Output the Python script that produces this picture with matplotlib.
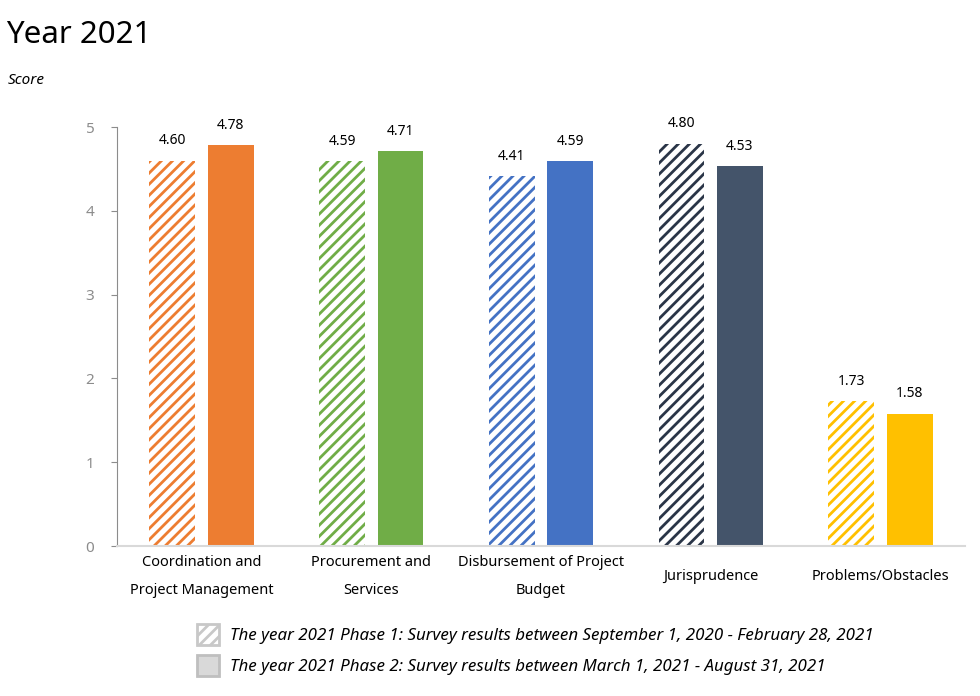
import matplotlib
matplotlib.use("Agg")
import matplotlib.pyplot as plt
import numpy as np
from matplotlib.patches import Patch

plt.rcParams['font.family'] = ['Noto Sans', 'DejaVu Sans']
plt.rcParams['hatch.linewidth'] = 2.0

categories = ["Coordination and\nProject Management", "Procurement and\nServices",
              "Disbursement of Project\nBudget", "Jurisprudence", "Problems/Obstacles"]
phase1 = [4.60, 4.59, 4.41, 4.80, 1.73]
phase2 = [4.78, 4.71, 4.59, 4.53, 1.58]
colors = ["#ED7D31", "#70AD47", "#4472C4", "#44546A", "#FFC000"]
hatch_colors = ["#ED7D31", "#70AD47", "#4472C4", "#2A3547", "#FFC000"]
legend_labels = ["The year 2021 Phase 1: Survey results between September 1, 2020 - February 28, 2021",
                 "The year 2021 Phase 2: Survey results between March 1, 2021 - August 31, 2021"]

fig = plt.figure(figsize=(9.8, 6.96), dpi=100)
ax = fig.add_axes([0.119, 0.2155, 0.866, 0.602])

x = np.arange(len(categories))
w = 0.27
off = 0.172
for i in range(len(categories)):
    ax.bar(x[i] - off, phase1[i], w, facecolor="white", edgecolor=hatch_colors[i],
           hatch="///", linewidth=0)
    ax.bar(x[i] + off, phase2[i], w, color=colors[i], linewidth=0)
    ax.annotate(f"{phase1[i]:.2f}", (x[i] - off, phase1[i]), xytext=(0, 9),
                textcoords="offset points", ha="center", va="bottom", fontsize=10,
                fontweight="medium")
    ax.annotate(f"{phase2[i]:.2f}", (x[i] + off, phase2[i]), xytext=(0, 9),
                textcoords="offset points", ha="center", va="bottom", fontsize=10,
                fontweight="medium")

ax.set_xlim(-0.5, 4.5)
ax.set_ylim(0, 5)
ax.set_yticks([0, 1, 2, 3, 4, 5])
ax.tick_params(axis="y", colors="#8c8c8c", labelsize=11, length=4, direction="out", pad=12)
ax.tick_params(axis="y", labelcolor="#8c8c8c")
ax.set_xticks(x)
ax.set_xticklabels(categories, fontsize=10.5, linespacing=2.25, va="center")
ax.tick_params(axis="x", length=0, pad=22)
for s in ["top", "right"]:
    ax.spines[s].set_visible(False)
ax.spines["left"].set_color("#8c8c8c")
ax.spines["bottom"].set_color("#d9d9d9")
ax.spines["bottom"].set_linewidth(1.5)

fig.text(0.006, 0.95, "Year 2021", fontsize=22.5, va="center", ha="left")
fig.text(0.008, 0.884, "Score", fontsize=11, style="italic", va="center", ha="left")

handles = [Patch(facecolor="white", edgecolor="#c8c8c8", hatch="///", linewidth=2),
           Patch(facecolor="#d9d9d9", edgecolor="#bfbfbf", linewidth=2)]
leg = fig.legend(handles, legend_labels, loc="upper left", bbox_to_anchor=(0.185, 0.125),
                 frameon=False, handlelength=1.3, handleheight=1.5, handletextpad=0.7,
                 labelspacing=0.6, prop={"style": "italic", "size": 12.2})

fig.savefig("out.png", dpi=100)
